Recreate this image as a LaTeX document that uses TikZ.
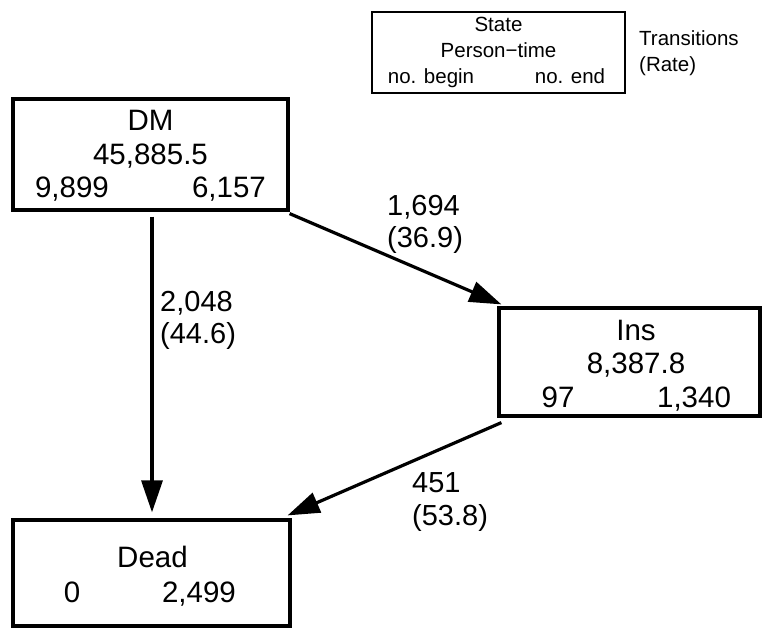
\documentclass[tikz,border=0pt]{standalone}
\usepackage{fontspec}
\setmainfont{Liberation Sans}
\usetikzlibrary{arrows.meta}
\begin{document}
\begin{tikzpicture}[x=1pt,y=-1pt,
  statebox/.style={draw, line width=3.2pt, inner sep=0pt},
  legbox/.style={draw, line width=2.2pt, inner sep=0pt},
  big/.style={inner sep=0pt, anchor=base, font=\fontsize{29.5}{29.5}\selectfont},
  small/.style={inner sep=0pt, anchor=base, font=\fontsize{20.5}{20.5}\selectfont},
  smallw/.style={inner sep=0pt, anchor=base west, font=\fontsize{20.5}{20.5}\selectfont},
  lab/.style={inner sep=0pt, anchor=base west, font=\fontsize{29}{29}\selectfont},
  flow/.style={line width=3.2pt, -{Triangle[length=32pt,width=21pt]}}]
\useasboundingbox (0,0) rectangle (768,628);
% legend
\node[legbox, minimum width=253pt, minimum height=81pt] (leg) at (498.5,52.5) {};
\node[small] (legS) at (498.5,32) {State};
\node[small] (legP) at (498.5,58) {Person−time};
\node[small] (legB) at (431,84) {no. begin};
\node[small] (legE) at (570,84) {no. end};
\node[smallw] (legT) at (639,46) {Transitions};
\node[smallw] (legR) at (639,72) {(Rate)};
% DM
\node[statebox, minimum width=275pt, minimum height=111pt] (DM) at (150.5,154.5) {};
\node[big] (DMn) at (150.5,131) {DM};
\node[big] (DMp) at (150.5,165) {45,885.5};
\node[big] (DMb) at (72,198) {9,899};
\node[big] (DMe) at (229,198) {6,157};
% Ins
\node[statebox, minimum width=261pt, minimum height=108pt] (Ins) at (629.5,362) {};
\node[big] (Insn) at (636,340) {Ins};
\node[big] (Insp) at (636,373) {8,387.8};
\node[big] (Insb) at (558,407) {97};
\node[big] (Inse) at (694,407) {1,340};
% Dead
\node[statebox, minimum width=277pt, minimum height=106pt] (Dead) at (151.5,573) {};
\node[big] (Deadn) at (152.5,567) {Dead};
\node[big] (Deadb) at (72,602) {0};
\node[big] (Deade) at (199,602) {2,499};
% transitions
\draw[flow] ([yshift=-2pt]DM.south east) -- ([xshift=4pt,yshift=2pt]Ins.north west);
\draw[flow] ([xshift=1.5pt,yshift=-5pt]DM.south) -- ([xshift=0.5pt,yshift=6pt]Dead.north);
\draw[flow] ([xshift=4pt,yshift=-5pt]Ins.south west) -- ([xshift=-4pt,yshift=3pt]Dead.north east);
% labels
\node[lab] (l1a) at (387,216) {1,694};
\node[lab] (l1b) at (387,248) {(36.9)};
\node[lab] (l2a) at (160,312) {2,048};
\node[lab] (l2b) at (160,343) {(44.6)};
\node[lab] (l3a) at (412,492) {451};
\node[lab] (l3b) at (412,525) {(53.8)};
\end{tikzpicture}
\end{document}
